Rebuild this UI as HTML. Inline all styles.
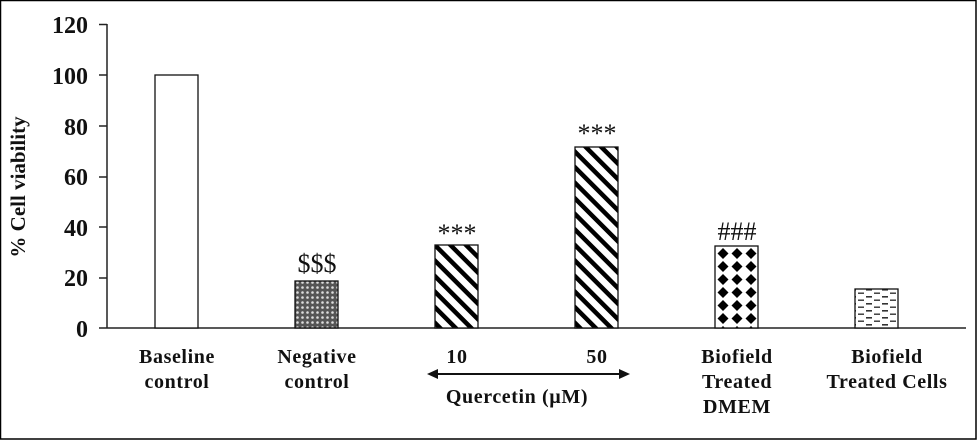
<!DOCTYPE html>
<html><head><meta charset="utf-8"><style>
html,body{margin:0;padding:0;background:#fff}
svg{display:block}
text{font-family:"Liberation Serif",serif;font-weight:bold;fill:#111}
</style></head><body>
<svg width="977" height="440" viewBox="0 0 977 440" xmlns="http://www.w3.org/2000/svg">
<defs>
<pattern id="cross" width="5" height="5" patternUnits="userSpaceOnUse">
<rect width="5" height="5" fill="#555"/>
<circle cx="2.5" cy="2.5" r="1.3" fill="#ddd"/>
</pattern>
<pattern id="diag" width="11" height="11" patternUnits="userSpaceOnUse" patternTransform="rotate(-45)">
<rect width="11" height="11" fill="#fff"/>
<rect x="0" y="0" width="4.5" height="11" fill="#000"/>
</pattern>
<pattern id="diam" width="14" height="13" patternUnits="userSpaceOnUse" x="716" y="247">
<rect width="14" height="13" fill="#fff"/>
<polygon points="7,1 12.5,6.5 7,12 1.5,6.5" fill="#000"/>
</pattern>
<pattern id="dash" width="16" height="7" patternUnits="userSpaceOnUse">
<rect width="16" height="7" fill="#fff"/>
<rect x="2" y="2" width="6" height="1.6" fill="#333"/>
<rect x="10" y="5.5" width="6" height="1.4" fill="#333"/>
</pattern>
</defs>
<rect x="0.5" y="0.5" width="975.5" height="438.5" fill="#fff" stroke="#000" stroke-width="1.5"/>
<g stroke="#222" stroke-width="1.5">
<line x1="107" y1="24" x2="107" y2="328"/>
<line x1="99" y1="328" x2="966" y2="328"/>
<line x1="99" y1="24.5" x2="107" y2="24.5"/>
<line x1="99" y1="75" x2="107" y2="75"/>
<line x1="99" y1="126" x2="107" y2="126"/>
<line x1="99" y1="177" x2="107" y2="177"/>
<line x1="99" y1="227" x2="107" y2="227"/>
<line x1="99" y1="278" x2="107" y2="278"/>
</g>
<g font-size="24" text-anchor="end">
<text x="88" y="33">120</text>
<text x="88" y="84">100</text>
<text x="88" y="135">80</text>
<text x="88" y="185">60</text>
<text x="88" y="236">40</text>
<text x="88" y="286">20</text>
<text x="88" y="337">0</text>
</g>
<text transform="translate(25,187) rotate(-90)" font-size="21" text-anchor="middle">% Cell viability</text>
<g stroke="#111" stroke-width="1.3">
<rect x="155" y="75" width="43" height="253" fill="#fff"/>
<rect x="295" y="281" width="43" height="47" fill="url(#cross)"/>
<rect x="435" y="245" width="43" height="83" fill="url(#diag)"/>
<rect x="575" y="147" width="43" height="181" fill="url(#diag)"/>
<rect x="715" y="246" width="43" height="82" fill="url(#diam)"/>
<rect x="855" y="289" width="43" height="39" fill="url(#dash)"/>
</g>
<g font-size="26" text-anchor="middle">
<text x="317" y="272" style="font-weight:normal">$$$</text>
<text x="457" y="242" style="font-weight:normal">***</text>
<text x="597" y="142" style="font-weight:normal">***</text>
<text x="737" y="240" style="font-weight:normal">###</text>
</g>
<g font-size="20" text-anchor="middle" letter-spacing="0.6">
<text x="177" y="363">Baseline</text>
<text x="177" y="388">control</text>
<text x="317" y="363">Negative</text>
<text x="317" y="388">control</text>
<text x="457" y="363">10</text>
<text x="597" y="363">50</text>
<text x="517" y="403">Quercetin (µM)</text>
<text x="737" y="363">Biofield</text>
<text x="737" y="388">Treated</text>
<text x="737" y="413">DMEM</text>
<text x="887" y="363">Biofield</text>
<text x="887" y="388">Treated Cells</text>
</g>
<line x1="435" y1="374" x2="622" y2="374" stroke="#111" stroke-width="2"/>
<polygon points="427,374 438,369 438,379" fill="#111"/>
<polygon points="630,374 619,369 619,379" fill="#111"/>
</svg>
</body></html>
